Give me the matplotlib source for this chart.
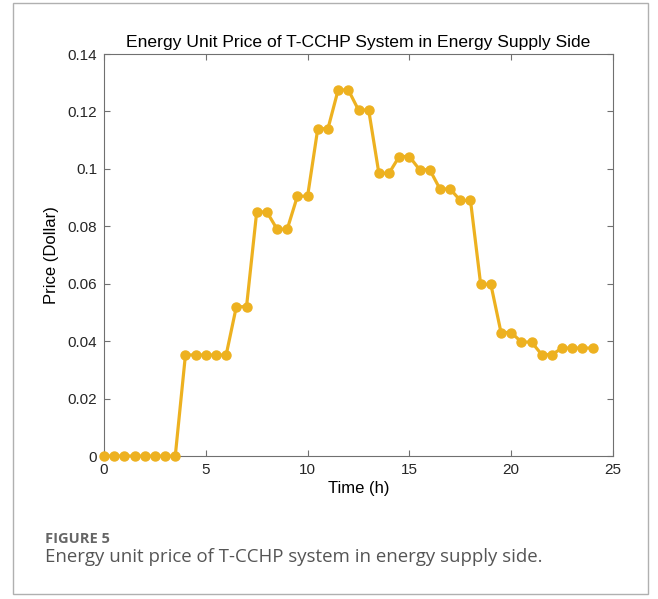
import numpy as np
import matplotlib.pyplot as plt
from matplotlib.patches import Rectangle

# hourly price data, every half hour from 0 to 24 h
time_h = np.arange(0, 24.5, 0.5)
price = [0, 0, 0, 0, 0, 0, 0, 0,
         0.0352, 0.0352, 0.0352, 0.0352, 0.0352,
         0.052, 0.052, 0.085, 0.085, 0.079, 0.079, 0.0905, 0.0905,
         0.114, 0.114, 0.1275, 0.1275, 0.1205, 0.1205, 0.0985, 0.0985,
         0.1043, 0.1043, 0.0997, 0.0997, 0.093, 0.093, 0.089, 0.089,
         0.0598, 0.0598, 0.043, 0.043, 0.0397, 0.0397, 0.0353, 0.0353,
         0.0376, 0.0376, 0.0376, 0.0376]

xticks = [0, 5, 10, 15, 20, 25]
yticks = [0, 0.02, 0.04, 0.06, 0.08, 0.1, 0.12, 0.14]
ytick_labels = ['0', '0.02', '0.04', '0.06', '0.08', '0.1', '0.12', '0.14']

W, H = 658, 599
fig = plt.figure(figsize=(W / 100, H / 100), dpi=100)
plt.rcParams['font.family'] = ['Liberation Sans', 'DejaVu Sans']

# frame around figure + caption
fig.patches.append(Rectangle((13 / W, 1 - 594 / H), (648 - 13) / W, (594 - 3) / H,
                             transform=fig.transFigure, fill=False,
                             edgecolor='#b0b0b0', linewidth=1))

ax = fig.add_axes([104 / W, 1 - 456 / H, (613 - 104) / W, (456 - 54) / H])
ax.plot(time_h, price, color='#EDB120', linewidth=2.3, marker='o',
        markersize=6.5, clip_on=False, zorder=3)

ax.set_xlim(0, 25)
ax.set_ylim(0, 0.14)
ax.set_xticks(xticks)
ax.set_yticks(yticks)
ax.set_yticklabels(ytick_labels)
ax.tick_params(direction='in', length=4, labelsize=11, colors='#262626',
               top=True, right=True, pad=5)
for s in ax.spines.values():
    s.set_color('#707070')
    s.set_linewidth(0.8)
ax.tick_params(axis='both', which='both', color='#707070')

ax.set_title('Energy Unit Price of T-CCHP System in Energy Supply Side',
             fontsize=12.6, pad=5)
ax.set_xlabel('Time (h)', fontsize=12, labelpad=3)
ax.set_ylabel('Price (Dollar)', fontsize=12, labelpad=6)

fig.text(45 / W, 1 - 539 / H, 'FIGURE 5', fontsize=10.5, fontweight='bold',
         color='#666666', family=['Open Sans', 'DejaVu Sans'], va='center')
fig.text(45 / W, 1 - 557 / H, 'Energy unit price of T-CCHP system in energy supply side.',
         fontsize=13.4, color='#555555', family=['Open Sans', 'DejaVu Sans'], va='center')

fig.savefig('out.png', dpi=100)
